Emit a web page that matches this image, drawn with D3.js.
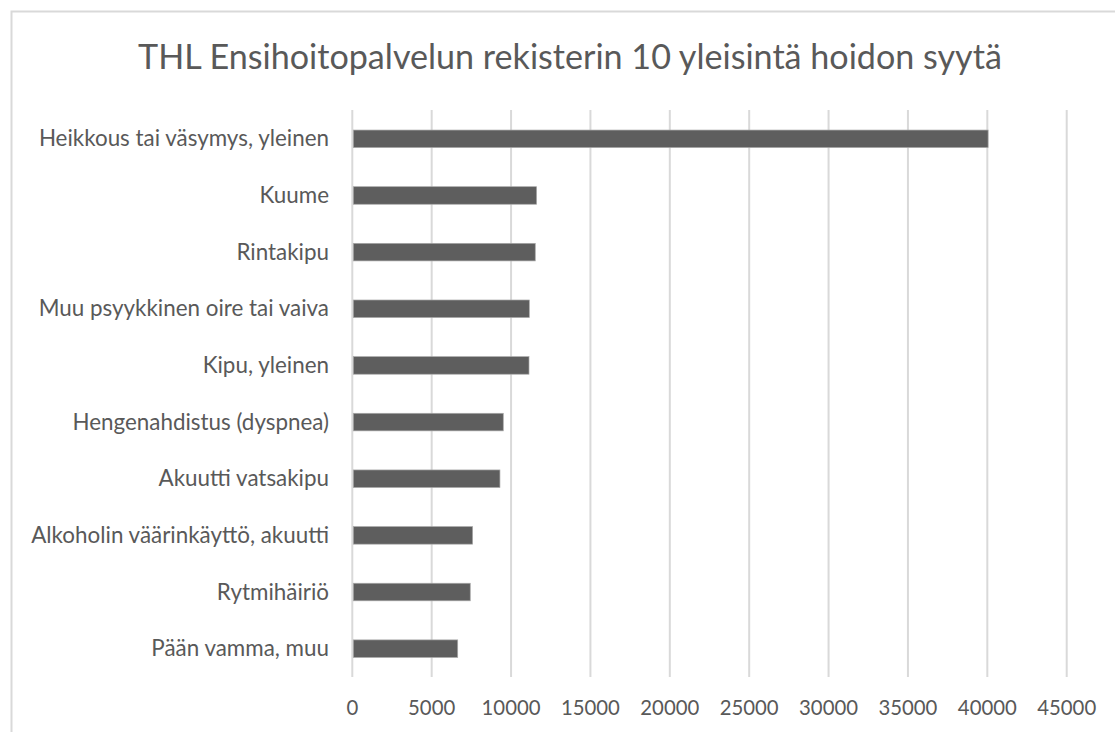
<!DOCTYPE html>
<html>
<head>
<meta charset="utf-8">
<script src="https://cdn.jsdelivr.net/npm/d3@7"></script>
<style>
  html, body { margin: 0; padding: 0; background: #ffffff; }
  svg { display: block; }
</style>
</head>
<body>
<svg id="chart" width="1115" height="732"></svg>
<script>
const title = "THL Ensihoitopalvelun rekisterin 10 yleisintä hoidon syytä";
const categories = [
  "Heikkous tai väsymys, yleinen",
  "Kuume",
  "Rintakipu",
  "Muu psyykkinen oire tai vaiva",
  "Kipu, yleinen",
  "Hengenahdistus (dyspnea)",
  "Akuutti vatsakipu",
  "Alkoholin väärinkäyttö, akuutti",
  "Rytmihäiriö",
  "Pään vamma, muu"
];
const values = [40050, 11610, 11525, 11150, 11130, 9510, 9300, 7580, 7430, 6640];
const xTicks = [0, 5000, 10000, 15000, 20000, 25000, 30000, 35000, 40000, 45000];

const FONT = "Lato, 'Open Sans', sans-serif";
const TEXT = "#595959";
const svg = d3.select("#chart");

// chart frame
svg.append("rect")
  .attr("x", 11.5).attr("y", 11.5)
  .attr("width", 1120).attr("height", 740)
  .attr("fill", "#ffffff")
  .attr("stroke", "#d9d9d9").attr("stroke-width", 2);

const plot = { left: 352.3, right: 1066.7, top: 110, bottom: 677 };

const x = d3.scaleLinear().domain([0, 45000]).range([plot.left, plot.right]);
const y = d3.scaleBand().domain(categories).range([110.5, 677]).paddingInner(0.69).paddingOuter(0.345);

// helper: fit font size to target width
function fitSize(sel, str, target, base) {
  const t = sel.append("text").attr("font-family", FONT).attr("font-size", base).text(str);
  const w = t.node().getComputedTextLength();
  t.remove();
  return base * target / w;
}

// gridlines
svg.append("g").selectAll("line").data(xTicks).join("line")
  .attr("x1", d => x(d)).attr("x2", d => x(d))
  .attr("y1", plot.top).attr("y2", plot.bottom)
  .attr("stroke", "#d9d9d9").attr("stroke-width", 2);

// bars
svg.append("g").selectAll("rect").data(values).join("rect")
  .attr("x", x(0) + 1)
  .attr("y", (d, i) => y(categories[i]))
  .attr("width", d => x(d) - x(0) - 1)
  .attr("height", y.bandwidth())
  .attr("fill", "#5e5e5e")
  .attr("stroke", "#a8a8a8").attr("stroke-width", 0.7);

// category labels
const labSize = fitSize(svg, "Alkoholin väärinkäyttö, akuutti", 298, 20);
svg.append("g").selectAll("text").data(categories).join("text")
  .attr("x", 329)
  .attr("y", d => y(d) + y.bandwidth() / 2 + labSize * 0.34)
  .attr("text-anchor", "end")
  .attr("font-family", FONT).attr("font-size", labSize)
  .attr("fill", TEXT)
  .text(d => d);

// x axis tick labels
const tickSize = fitSize(svg, "10000", 59, 20);
svg.append("g").selectAll("text").data(xTicks).join("text")
  .attr("x", d => x(d))
  .attr("y", 715)
  .attr("text-anchor", "middle")
  .attr("font-family", FONT).attr("font-size", tickSize)
  .attr("fill", TEXT)
  .text(d => d);

// title
const titleSize = fitSize(svg, title, 864, 28);
svg.append("text")
  .attr("x", 570).attr("y", 68.5)
  .attr("text-anchor", "middle")
  .attr("font-family", FONT).attr("font-size", titleSize)
  .attr("fill", TEXT)
  .text(title);
</script>
</body>
</html>
